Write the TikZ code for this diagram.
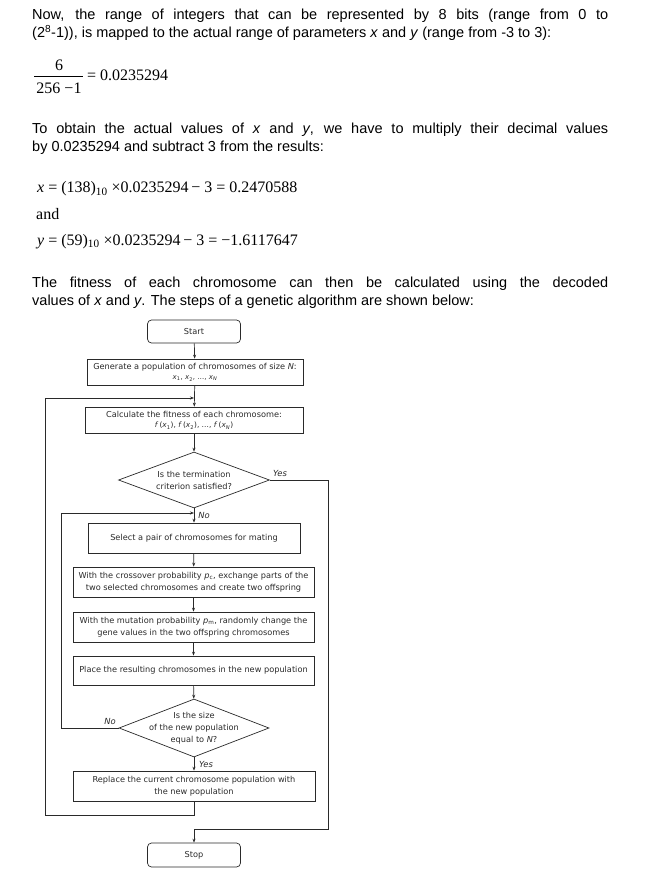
\documentclass[tikz,border=0pt]{standalone}
\usepackage{fontspec}
\setmainfont{Liberation Sans}
\newfontfamily\serifx{Liberation Serif}
\newfontfamily\flowfam{DejaVu Sans}
\usetikzlibrary{shapes.geometric,arrows.meta}
\definecolor{ink}{HTML}{2A2A2A}
\begin{document}
\begin{tikzpicture}[x=1pt,y=-1pt,
  body/.style={anchor=base west,inner sep=0pt,font=\fontsize{14.5}{18}\selectfont},
  formula/.style={anchor=base west,inner sep=0pt,font=\serifx\fontsize{16}{18}\selectfont},
  flowtxt/.style={inner sep=0pt,align=center,text=ink,font=\flowfam\fontsize{8.2}{12}\selectfont},
  box/.style={flowtxt,draw=ink,line width=0.7pt,fill=white},
  term/.style={box,rounded corners=4pt,minimum width=93pt,minimum height=23pt},
  dia/.style={draw=ink,line width=0.7pt,diamond,inner sep=0pt},
  lbl/.style={inner sep=0pt,text=ink,font=\flowfam\itshape\fontsize{8.4}{9}\selectfont},
  arr/.style={draw=ink,line width=0.7pt,-{Stealth[length=4pt,width=3pt]}},
  ln/.style={draw=ink,line width=0.7pt}]
\useasboundingbox[fill=white] (0,0) rectangle (666,877);

% paragraph 1
\node[body] (p1a) at (32,20) {\makebox[576pt][s]{Now, the range of integers that can be represented by 8 bits (range from 0 to}};
\node[body] (p1b) at (32,38) {(2\textsuperscript{8}-1)), is mapped to the actual range of parameters \textit{x} and \textit{y} (range from -3 to 3):};

% fraction
\node[formula,anchor=base] (fnum) at (59,70.5) {6};
\node[formula,anchor=base] (fden) at (59,94) {256 \char"2212 1};
\coordinate (fbl) at (34,76);
\coordinate (fbr) at (83,76);
\draw[line width=0.6pt] (fbl) -- (fbr);
\node[formula] (fval) at (87,81) {= 0.0235294};

% paragraph 2
\node[body] (p2a) at (32,134) {\makebox[576pt][s]{To obtain the actual values of \textit{x} and \textit{y}, we have to multiply their decimal values}};
\node[body] (p2b) at (32,152) {by 0.0235294 and subtract 3 from the results:};

\node[formula] (fx) at (37,193) {\textit{x} = (138)\textsubscript{10} ×0.0235294\,\char"2212\ 3 = 0.2470588};
\node[formula] (fand) at (36,220) {and};
\node[formula] (fy) at (37,245) {\textit{y} = (59)\textsubscript{10} ×0.0235294\,\char"2212\ 3 = \char"2212 1.6117647};

% paragraph 3
\node[body] (p3a) at (32,287) {\makebox[576pt][s]{The fitness of each chromosome can then be calculated using the decoded}};
\node[body] (p3b) at (32,305) {values of \textit{x} and \textit{y}. The steps of a genetic algorithm are shown below:};

% flowchart
\node[term] (start) at (194,331.5) {Start};
\node[box,minimum width=216pt,minimum height=26pt] (gen) at (195,372) {Generate a population of chromosomes of size \textit{N}:\\[-1.5pt]{\fontsize{7}{8}\selectfont\textit{x}\textsubscript{1}, \textit{x}\textsubscript{2}, \dots, \textit{x}\textsubscript{\textit{N}}}};
\node[box,minimum width=218pt,minimum height=26pt] (fit) at (194,420) {Calculate the fitness of each chromosome:\\[-1.5pt]{\fontsize{7.4}{8}\selectfont\textit{f}\,(\textit{x}\textsubscript{1}), \textit{f}\,(\textit{x}\textsubscript{2}), \dots, \textit{f}\,(\textit{x}\textsubscript{\textit{N}})}};
\node[dia,minimum width=151pt,minimum height=56pt] (d1) at (194,480) {};
\node[flowtxt] (d1t) at (d1.center) {Is the termination\\criterion satisfied?};
\node[box,minimum width=212pt,minimum height=30pt] (sel) at (194,538) {Select a pair of chromosomes for mating};
\node[box,minimum width=241pt,minimum height=30pt] (cross) at (193.5,582) {With the crossover probability \textit{p}\textsubscript{c}, exchange parts of the\\two selected chromosomes and create two offspring};
\node[box,minimum width=241pt,minimum height=30pt] (mut) at (193.5,627) {With the mutation probability \textit{p}\textsubscript{m}, randomly change the\\gene values in the two offspring chromosomes};
\node[box,minimum width=241pt,minimum height=29pt] (place) at (193.5,670.5) {Place the resulting chromosomes in the new population};
\node[dia,minimum width=150pt,minimum height=58pt] (d2) at (194,728) {};
\node[flowtxt] (d2t) at (d2.center) {Is the size\\of the new population\\equal to \textit{N}?};
\node[box,minimum width=242pt,minimum height=30pt] (repl) at (194,786) {Replace the current chromosome population with\\the new population};
\node[term,minimum height=24pt] (stop) at (194,855) {Stop};

% junction coordinates
\coordinate (j1) at (194,398);
\coordinate (j2) at (194,513);
\coordinate (oL1) at (45,815);
\coordinate (oL2) at (45,398);
\coordinate (oB) at (194,815);
\coordinate (yR1) at (328,480);
\coordinate (yR2) at (328,829);
\coordinate (yB) at (194,829);
\coordinate (nL1) at (61,728);
\coordinate (nL2) at (61,513);

% main flow
\draw[arr] (start) -- (gen);
\draw[arr] (gen) -- (fit);
\draw[arr] (fit) -- (d1);
\draw[arr] (d1) -- (sel);
\draw[arr] (sel) -- (cross);
\draw[arr] (cross) -- (mut);
\draw[arr] (mut) -- (place);
\draw[arr] (place) -- (d2);
\draw[arr] (d2) -- (repl);

% outer loop
\draw[ln] (repl.south) -- (oB) -- (oL1) -- (oL2);
\draw[arr] (oL2) -- (j1);
% yes loop to stop
\draw[ln] (d1.east) -- (yR1) -- (yR2) -- (yB);
\draw[arr] (yB) -- (stop.north);
% no loop
\draw[ln] (d2.west) -- (nL1) -- (nL2);
\draw[arr] (nL2) -- (j2);

% labels
\node[lbl] (yes1) at (280,473) {Yes};
\node[lbl] (no1) at (204,515) {No};
\node[lbl] (no2) at (110,721) {No};
\node[lbl] (yes2) at (206,764) {Yes};
\end{tikzpicture}
\end{document}
